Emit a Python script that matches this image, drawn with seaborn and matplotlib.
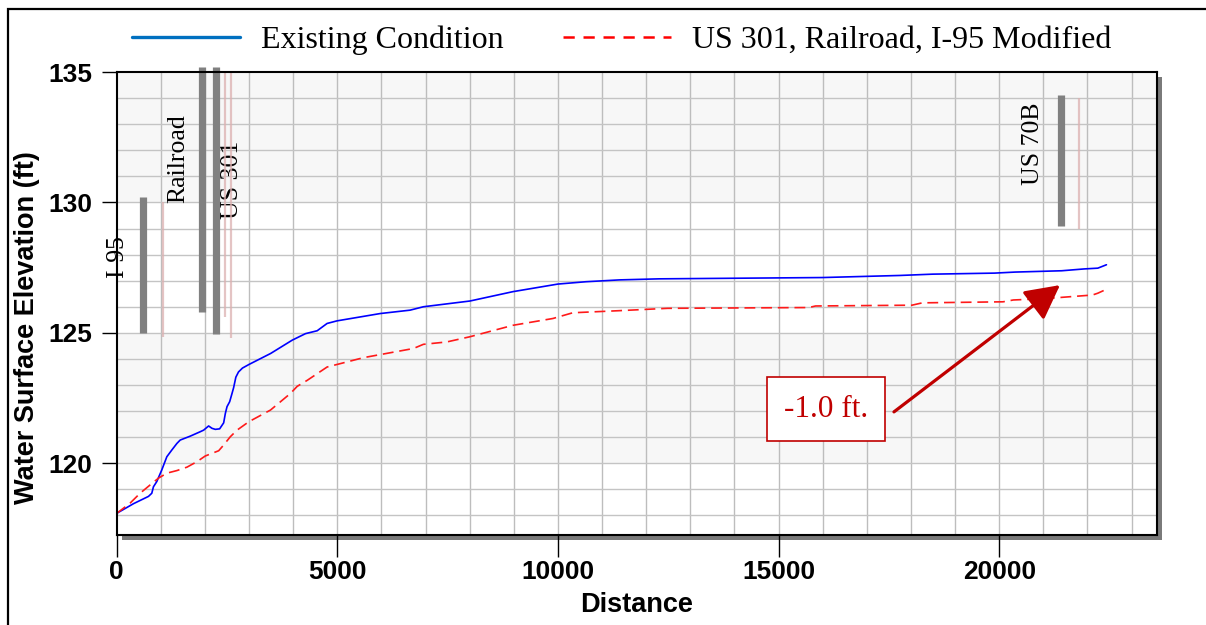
import matplotlib
matplotlib.use("Agg")
import matplotlib.pyplot as plt
from matplotlib.lines import Line2D
from matplotlib.patches import Rectangle
import seaborn as sns
import numpy as np

# ---------------- data ----------------
existing_dist = [0, 380, 720, 795, 833, 909, 1023, 1136, 1250, 1364, 1439, 1667, 1894, 1970,
                 2083, 2159, 2235, 2333, 2424, 2462, 2500, 2560, 2614, 2650, 2700, 2760, 2850,
                 3000, 3489, 3978, 4279, 4543, 4768, 4994, 5972, 6649, 6950, 8004, 8982, 9998,
                 10637, 11392, 12289, 15994, 17749, 18490, 19894, 20362, 21415, 21922, 22234, 22429]
existing_elev = [118.08, 118.45, 118.73, 118.85, 119.10, 119.30, 119.75, 120.25, 120.51, 120.76,
                 120.89, 121.04, 121.21, 121.27, 121.43, 121.34, 121.30, 121.32, 121.55, 121.91,
                 122.17, 122.36, 122.68, 122.90, 123.30, 123.50, 123.65, 123.79, 124.21, 124.72,
                 124.97, 125.08, 125.36, 125.46, 125.74, 125.87, 126.00, 126.22, 126.58, 126.87,
                 126.96, 127.03, 127.07, 127.12, 127.20, 127.25, 127.29, 127.33, 127.38, 127.45,
                 127.48, 127.61]

modified_dist = [0, 303, 530, 758, 947, 1136, 1364, 1591, 1818, 2008, 2311, 2424, 2576, 2727,
                 2992, 3485, 3939, 4091, 4318, 4768, 5596, 6725, 6950, 7477, 8004, 8982, 9885,
                 10336, 11392, 12484, 15682, 15838, 18022, 18256, 20086, 20320, 21020, 21645,
                 22113, 22234, 22429]
modified_elev = [118.08, 118.47, 118.85, 119.17, 119.43, 119.62, 119.72, 119.85, 120.06, 120.28,
                 120.48, 120.70, 121.02, 121.27, 121.59, 122.04, 122.68, 122.95, 123.18, 123.69,
                 124.05, 124.40, 124.56, 124.65, 124.85, 125.29, 125.55, 125.77, 125.85, 125.94,
                 125.97, 126.03, 126.06, 126.15, 126.19, 126.26, 126.31, 126.39, 126.45, 126.52,
                 126.67]

series_names = ["Existing Condition", "US 301, Railroad, I-95 Modified"]

# bridges (existing: gray bars, modified: pink bars)
bridge_names = ["I-95", "Railroad", "US 301", "US 70B"]
bridge_label_x = [18, 1389, 2613, 20765]
bridge_label_y = [127.94, 131.66, 130.86, 132.24]
gray_x = [600, 1940, 2250, 21400]
gray_low = [125.0, 125.8, 124.95, 129.1]
gray_high = [130.2, 135.2, 135.2, 134.1]
pink_x = [1040, 2450, 2600, 21810]
pink_low = [124.85, 125.6, 124.8, 129.0]
pink_high = [130.0, 135.0, 135.0, 134.0]

annot_text = "-1.0 ft."
annot_text_xy = (16073, 122.08)
annot_arrow_start = (17614, 121.97)
annot_tip_xy = (21376, 126.83)

x_ticks = [0, 5000, 10000, 15000, 20000]
y_ticks = [120, 125, 130, 135]

# ---------------- style ----------------
sns.set_style("white")
plt.rcParams['font.family'] = ['Liberation Sans', 'DejaVu Sans']
plt.rcParams['text.color'] = 'black'
plt.rcParams['axes.labelcolor'] = 'black'
plt.rcParams['xtick.color'] = 'black'
plt.rcParams['ytick.color'] = 'black'

W, H = 1206, 625
fig = plt.figure(figsize=(W / 100, H / 100), dpi=100)
fig.patch.set_facecolor("white")

ax_l, ax_r, ax_t, ax_b = 116.7, 1157.0, 72.0, 535.0
ax = fig.add_axes([ax_l / W, 1 - ax_b / H, (ax_r - ax_l) / W, (ax_b - ax_t) / H])

# drop shadow behind axes
sh = 5
fig.patches.append(Rectangle(((ax_l + sh) / W, 1 - (ax_b + sh) / H), (ax_r - ax_l) / W,
                             (ax_b - ax_t) / H, transform=fig.transFigure,
                             facecolor="#7a7a7a", edgecolor="none", zorder=-1))
# figure border
fig.patches.append(Rectangle((8 / W, -0.1), 2.0, 1 - 9 / H + 0.1, transform=fig.transFigure,
                             fill=False, edgecolor="black", linewidth=1.6, clip_on=False))

ax.set_xlim(0, 23575)
ax.set_ylim(117.25, 135)

# alternating background bands
ax.set_facecolor("white")
for lo in (120, 130):
    ax.axhspan(lo, lo + 5, color="#f7f7f7", zorder=0, lw=0)

# grid
for gx in range(1000, 24000, 1000):
    ax.axvline(gx, color="#bdbdbd", lw=1.0, zorder=0.5)
for gy in range(118, 135):
    ax.axhline(gy, color="#c4c4c4", lw=1.0, zorder=0.5)

# bridges
ax.vlines(gray_x, gray_low, gray_high, colors="#808080", linewidth=5.2, zorder=2, clip_on=False)
ax.vlines(pink_x, pink_low, pink_high, colors="#dcb0b0", linewidth=1.6, alpha=0.75, zorder=2,
          clip_on=False)
for name, bx, by in zip(bridge_names, bridge_label_x, bridge_label_y):
    ax.text(bx, by, name, rotation=90, ha="center", va="center", fontsize=18.5,
            family=["Liberation Serif"], color="black", zorder=1.5, clip_on=False)

# profiles
sns.lineplot(x=existing_dist, y=existing_elev, ax=ax, color="#0000ff", lw=1.2,
             sort=False, estimator=None, zorder=3)
sns.lineplot(x=modified_dist, y=modified_elev, ax=ax, color="#ff1a1a", lw=1.2,
             sort=False, estimator=None, zorder=3, dashes=False)
ax.lines[-1].set_dashes((6.5, 3.5))

# annotation box and arrow
ax.text(*annot_text_xy, annot_text, ha="center", va="center",
        fontsize=22.5, family=["Liberation Serif"], color="#c00000", zorder=4,
        bbox=dict(boxstyle="square,pad=0.55", facecolor="white", edgecolor="#c00000", lw=1.2))
ax.annotate("", xy=annot_tip_xy, xytext=annot_arrow_start,
            arrowprops=dict(arrowstyle="-|>,head_length=1.05,head_width=0.55", mutation_scale=20,
                            color="#c00000", lw=2.3, shrinkA=0, shrinkB=0),
            zorder=4)

# axes, ticks
for s in ax.spines.values():
    s.set_color("black")
    s.set_linewidth(1.5)
    s.set_zorder(5)
ax.set_xticks(x_ticks)
ax.set_yticks(y_ticks)
ax.set_xticklabels([str(v) for v in x_ticks])
ax.set_yticklabels([str(v) for v in y_ticks])
ax.tick_params(axis="x", direction="out", length=15.8, width=1, pad=2, labelsize=19,
               bottom=True, colors="black")
ax.tick_params(axis="y", direction="out", length=10.5, width=1, pad=7, labelsize=19, left=True,
               colors="black")
for lab in ax.get_xticklabels() + ax.get_yticklabels():
    lab.set_fontweight("bold")
    lab.set_color("black")
ax.set_xlabel("Distance", fontsize=19.5, fontweight="bold", labelpad=6, color="black")
ax.set_ylabel("Water Surface Elevation (ft)", fontsize=19.5, fontweight="bold", color="black")
ax.yaxis.set_label_coords(-0.074, 0.449)
ax.grid(False)

# legend above axes
handles = [Line2D([], [], color="#0070c0", lw=2.4),
           Line2D([], [], color="#ff0000", lw=1.8, dashes=(4.5, 3.5))]
fig.legend(handles, series_names, loc="center", bbox_to_anchor=(0.5155, 1 - 40 / H), ncol=2,
           frameon=False, prop={"family": "Liberation Serif", "size": 23},
           handlelength=3.4, handletextpad=0.65, columnspacing=1.85, borderaxespad=0)

fig.savefig("out.png", dpi=100)
